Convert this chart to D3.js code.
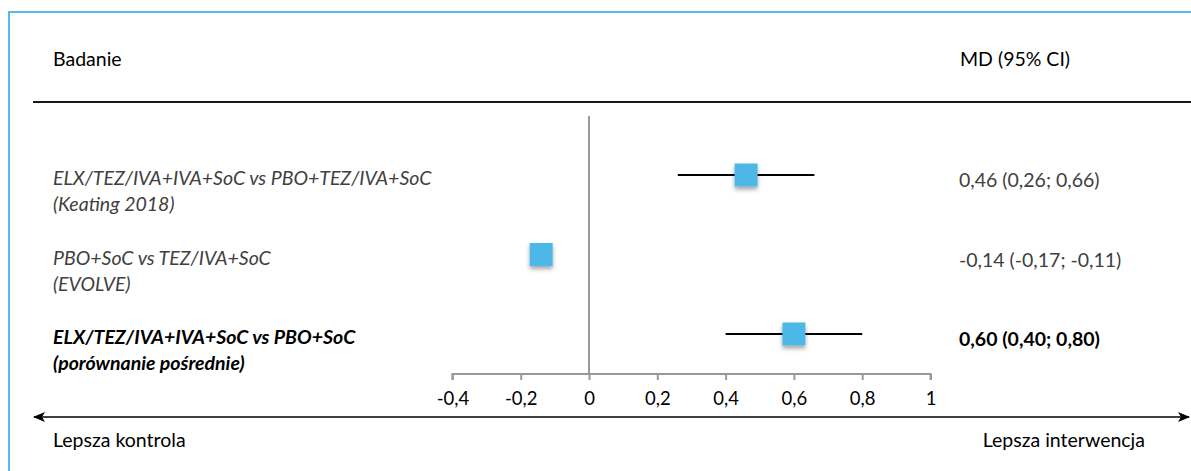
<!DOCTYPE html>
<html>
<head>
<meta charset="utf-8">
<script src="https://cdn.jsdelivr.net/npm/d3@7"></script>
<style>
  html, body { margin: 0; padding: 0; background: #fff; }
  svg { display: block; font-family: Lato, "Open Sans", sans-serif; }
</style>
</head>
<body>
<svg id="chart" width="1191" height="471"></svg>
<script>
// Forest plot data: mean difference with 95% CI
const studies = [
  "ELX/TEZ/IVA+IVA+SoC vs PBO+TEZ/IVA+SoC",
  "PBO+SoC vs TEZ/IVA+SoC",
  "ELX/TEZ/IVA+IVA+SoC vs PBO+SoC"
];
const sources = ["(Keating 2018)", "(EVOLVE)", "(porównanie pośrednie)"];
const md = [0.46, -0.14, 0.60];
const lower = [0.26, -0.17, 0.40];
const upper = [0.66, -0.11, 0.80];
const pooled = [false, false, true];
const ticks = [-0.4, -0.2, 0, 0.2, 0.4, 0.6, 0.8, 1];

const fmt = v => d3.format(".2f")(v).replace(".", ",").replace("−", "-");
const tickFmt = v => String(+v.toFixed(1)).replace(".", ",");

const svg = d3.select("#chart");
const rows = d3.range(studies.length);

const x = d3.scaleLinear().domain([0, 1]).range([589, 930.5]);
const y = d3.scalePoint().domain(rows).range([175, 334]);

const blue = "#4db8e8";
const fs = 19.5;

// drop shadow for the markers
const defs = svg.append("defs");
const f = defs.append("filter").attr("id", "shadow")
  .attr("x", "-50%").attr("y", "-50%").attr("width", "200%").attr("height", "200%");
f.append("feDropShadow").attr("dx", 0).attr("dy", 3).attr("stdDeviation", 2)
  .attr("flood-color", "#000").attr("flood-opacity", 0.35);

const arrow = (id, orient) => defs.append("marker").attr("id", id)
  .attr("viewBox", "0 0 12 10").attr("refX", 11).attr("refY", 5)
  .attr("markerWidth", 12).attr("markerHeight", 10)
  .attr("markerUnits", "userSpaceOnUse").attr("orient", orient)
  .append("path").attr("d", "M0,0 L12,5 L0,10 L3,5 Z").attr("fill", "#000");
arrow("arrowEnd", "auto");
arrow("arrowStart", "auto-start-reverse");

// frame
svg.append("rect").attr("x", 9).attr("y", 12).attr("width", 1300).attr("height", 600)
  .attr("fill", "none").attr("stroke", "#5bb9ea").attr("stroke-width", 2);

// header
svg.append("text").attr("x", 53).attr("y", 66).attr("font-size", fs).attr("fill", "#000")
  .text("Badanie");
svg.append("text").attr("x", 960).attr("y", 66).attr("font-size", fs).attr("fill", "#000")
  .text("MD (95% CI)");
svg.append("line").attr("x1", 33).attr("x2", 1191).attr("y1", 102).attr("y2", 102)
  .attr("stroke", "#1a1a1a").attr("stroke-width", 2);

// line of no effect
svg.append("line").attr("x1", x(0)).attr("x2", x(0)).attr("y1", 116).attr("y2", 374)
  .attr("stroke", "#999").attr("stroke-width", 2);

// x axis
const axis = svg.append("g").attr("transform", "translate(0,374)")
  .call(d3.axisBottom(x).tickValues(ticks).tickFormat(tickFmt).tickSize(6).tickPadding(12));
axis.select(".domain").attr("stroke", "#999").attr("stroke-width", 2)
  .attr("d", `M${x(-0.4)},6V0H${x(1)}V6`);
axis.selectAll(".tick line").attr("stroke", "#999").attr("stroke-width", 2);
axis.selectAll(".tick text").attr("font-size", 18.5).attr("fill", "#000")
  .attr("font-family", "Lato, 'Open Sans', sans-serif");

// rows
const g = svg.append("g").selectAll("g").data(rows).join("g");

g.append("line")
  .attr("x1", i => x(lower[i])).attr("x2", i => x(upper[i]))
  .attr("y1", i => y(i)).attr("y2", i => y(i))
  .attr("stroke", "#000").attr("stroke-width", 2);

const size = 23;
g.append("rect")
  .attr("x", i => x(md[i]) - size / 2).attr("y", i => y(i) - size / 2)
  .attr("width", size).attr("height", size)
  .attr("fill", blue).attr("filter", "url(#shadow)");

const label = g.append("text")
  .attr("font-style", "italic").attr("font-size", fs)
  .attr("font-weight", i => pooled[i] ? "bold" : "normal")
  .attr("fill", i => pooled[i] ? "#000" : "#404040");
label.append("tspan").attr("x", 53).attr("y", i => y(i) + 10).text(i => studies[i]);
label.append("tspan").attr("x", 53).attr("y", i => y(i) + 36).text(i => sources[i]);

g.append("text").attr("x", 959).attr("y", i => y(i) + 12).attr("font-size", fs)
  .attr("font-weight", i => pooled[i] ? "bold" : "normal")
  .attr("fill", i => pooled[i] ? "#000" : "#404040")
  .text(i => `${fmt(md[i])} (${fmt(lower[i])}; ${fmt(upper[i])})`);

// direction arrow
svg.append("line").attr("x1", 34).attr("x2", 1189).attr("y1", 417).attr("y2", 417)
  .attr("stroke", "#000").attr("stroke-width", 1.5)
  .attr("marker-start", "url(#arrowStart)").attr("marker-end", "url(#arrowEnd)");
svg.append("text").attr("x", 53).attr("y", 447).attr("font-size", fs).attr("fill", "#000")
  .text("Lepsza kontrola");
svg.append("text").attr("x", 1145).attr("y", 447).attr("font-size", fs).attr("fill", "#000")
  .attr("text-anchor", "end").text("Lepsza interwencja");
</script>
</body>
</html>
